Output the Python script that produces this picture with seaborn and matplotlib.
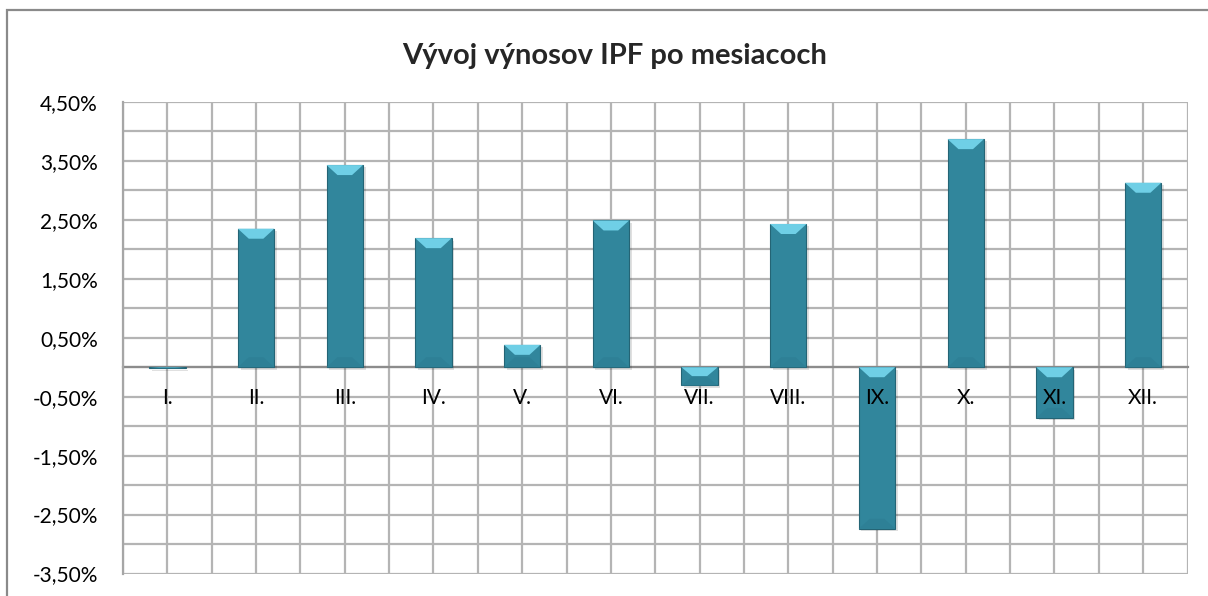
import matplotlib

matplotlib.use("Agg")
import matplotlib.pyplot as plt
import numpy as np
import pandas as pd
import seaborn as sns
from matplotlib.patches import Polygon, Rectangle

# Monthly returns of the IPF fund (in %)
months = ["I.", "II.", "III.", "IV.", "V.", "VI.", "VII.", "VIII.", "IX.", "X.", "XI.", "XII."]
returns = [-0.02, 2.35, 3.43, 2.19, 0.38, 2.49, -0.31, 2.43, -2.74, 3.87, -0.86, 3.13]
y_ticks = [-3.5, -2.5, -1.5, -0.5, 0.5, 1.5, 2.5, 3.5, 4.5]
title = "Vývoj výnosov IPF po mesiacoch"

bar_color = "#31869c"
bevel_light = "#6fcfe6"
bevel_dark = "#246475"
grid_color = "#b4b4b4"

sns.set_style("white")
plt.rcParams["font.family"] = ["Lato", "DejaVu Sans"]

df = pd.DataFrame({"month": months, "value": returns})

fig = plt.figure(figsize=(12.08, 5.96), dpi=100)
ax = fig.add_axes([123 / 1208, 22.5 / 596, 1064.5 / 1208, 471.5 / 596])

sns.barplot(data=df, x="month", y="value", color=bar_color, width=0.41,
            saturation=1, edgecolor=bevel_dark, linewidth=0.8, ax=ax, zorder=3)

# Excel-like bevel: light wedge on top of each bar, darker one at the bottom
px_per_unit = 471.5 / 8.0
bevel_h = 10 / px_per_unit
for patch in ax.patches:
    x0 = patch.get_x()
    w = patch.get_width()
    y_lo = min(patch.get_y(), patch.get_y() + patch.get_height())
    y_hi = max(patch.get_y(), patch.get_y() + patch.get_height())
    h = y_hi - y_lo
    bh = min(bevel_h, h / 2)
    inset = w * 0.3
    top = Polygon([[x0, y_hi], [x0 + w, y_hi], [x0 + w - inset, y_hi - bh],
                   [x0 + inset, y_hi - bh]], closed=True,
                  facecolor=bevel_light, edgecolor="none", zorder=4)
    bottom = Polygon([[x0, y_lo], [x0 + w, y_lo], [x0 + w - inset, y_lo + bh],
                      [x0 + inset, y_lo + bh]], closed=True,
                     facecolor="#2e8096", edgecolor="none", zorder=4)
    ax.add_patch(top)
    ax.add_patch(bottom)
    # soft drop shadow
    ax.add_patch(Rectangle((x0 + 0.03, y_lo - 0.04), w, h, facecolor="#000000",
                           alpha=0.12, edgecolor="none", zorder=2))

ax.set_xlim(-0.5, len(months) - 0.5)
ax.set_ylim(-3.5, 4.5)

# gridlines every 0.5 on both axes
ax.set_yticks(y_ticks)
ax.set_yticklabels([f"{v:.2f}%".replace(".", ",") for v in y_ticks])
ax.set_yticks(np.arange(-3.0, 4.5, 1.0), minor=True)
ax.set_xticks(np.arange(len(months)))
ax.set_xticklabels([])
ax.set_xticks(np.arange(-0.5, len(months), 1.0), minor=True)
ax.grid(True, which="both", color=grid_color, linewidth=1.6, zorder=0)
ax.set_axisbelow(True)

# category labels drawn above the bars, as in the original
for i, name in enumerate(months):
    ax.annotate(name, xy=(i, 0), xytext=(0, -31), textcoords="offset pixels",
                ha="center", va="center", fontsize=15, color="#000000", zorder=6)

ax.spines["bottom"].set_position(("data", 0))
ax.spines["bottom"].set_color("#8c8c8c")
ax.spines["bottom"].set_linewidth(1.6)
ax.spines["bottom"].set_zorder(1)
ax.spines["left"].set_color("#a6a6a6")
ax.spines["left"].set_linewidth(1.6)
for side in ["top", "right"]:
    ax.spines[side].set_visible(False)

ax.tick_params(axis="x", which="major", length=0)
ax.tick_params(axis="x", which="minor", length=5, width=1.6, color="#8c8c8c", direction="out")
ax.tick_params(axis="y", which="major", length=7, width=1.6, color="#a6a6a6", pad=11,
               labelsize=15, labelcolor="#000000")
ax.tick_params(axis="y", which="minor", length=0)
ax.set_xlabel("")
ax.set_ylabel("")

fig.text(0.509, 0.906, title, ha="center", va="center", fontsize=21, fontweight="bold")

# outer chart border
fig.patches.append(Rectangle((7 / 1208, -0.1), 1.2, 1 - 9.5 / 596 + 0.1, transform=fig.transFigure,
                             fill=False, edgecolor="#8a8a8a", linewidth=1.6, zorder=10))

fig.savefig("out.png", dpi=100)
